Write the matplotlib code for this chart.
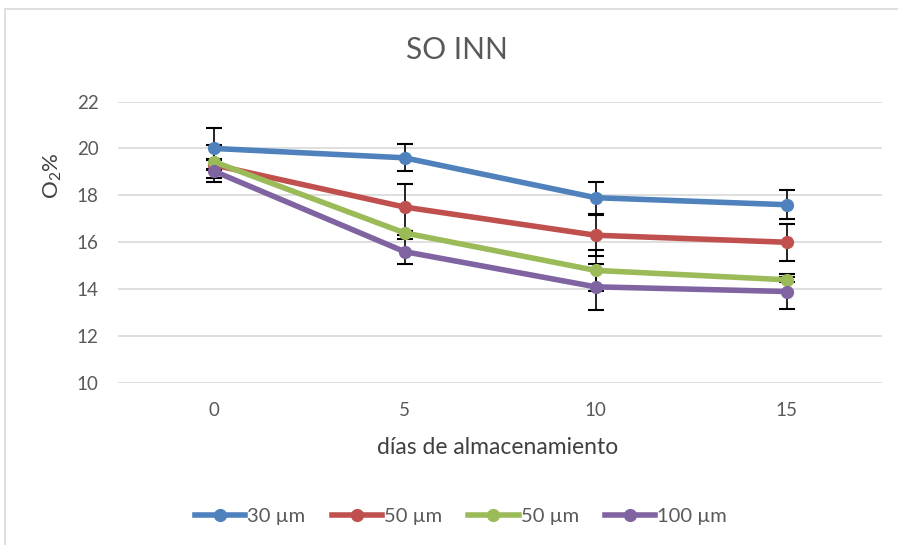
import matplotlib
matplotlib.use("Agg")
import matplotlib.pyplot as plt
from matplotlib.patches import Rectangle
from matplotlib.lines import Line2D

plt.rcParams["font.family"] = ["Lato", "DejaVu Sans"]
plt.rcParams["mathtext.fontset"] = "custom"
plt.rcParams["mathtext.rm"] = "Lato"

# Storage days and O2 (%) readings per film thickness
dias = [0, 5, 10, 15]
series_labels = ["30 µm", "50 µm", "50 µm", "100 µm"]
o2_30 = [20.0, 19.6, 17.9, 17.6]
o2_50a = [19.3, 17.5, 16.3, 16.0]
o2_50b = [19.44, 16.4, 14.8, 14.4]
o2_100 = [19.04, 15.6, 14.1, 13.9]
err_30 = [0.89, 0.58, 0.68, 0.62]
err_50a = [0.2, 1.0, 0.87, 0.78]
err_50b = [0.71, 0.1, 0.88, 0.1]
err_100 = [0.49, 0.53, 0.97, 0.74]
colors = ["#4F81BD", "#C0504D", "#9BBB59", "#8064A2"]

W, H = 898, 545
fig = plt.figure(figsize=(W / 100, H / 100), dpi=100)
ax = fig.add_axes([118 / W, 1 - 383 / H, (882 - 118) / W, (383 - 101.5) / H])

values = [o2_30, o2_50a, o2_50b, o2_100]
errors = [err_30, err_50a, err_50b, err_100]

for v, e in zip(values, errors):
    ax.errorbar(dias, v, yerr=e, fmt="none", ecolor="black", elinewidth=1.2,
                capsize=5.5, capthick=1.5, zorder=2)
for v, c, lab in zip(values, colors, series_labels):
    ax.plot(dias, v, color=c, linewidth=4, marker="o", markersize=8.5,
            label=lab, zorder=3, solid_capstyle="round")

ax.set_xlim(-2.5, 17.5)
ax.set_ylim(10, 22)
ax.set_yticks([10, 12, 14, 16, 18, 20, 22])
ax.set_xticks(dias)
ax.grid(axis="y", color="#D9D9D9", linewidth=1.2)
ax.set_axisbelow(True)
for s in ax.spines.values():
    s.set_visible(False)
ax.tick_params(axis="both", length=0, labelsize=13.5, labelcolor="#595959")
ax.tick_params(axis="y", pad=14)
ax.tick_params(axis="x", pad=14)

fig.text(457 / W, 1 - 50 / H, "SO INN", ha="center", va="center",
         fontsize=21.5, color="#595959")
fig.text(498 / W, 1 - 448 / H, "días de almacenamiento", ha="center",
         va="center", fontsize=16.5, color="#404040")
fig.text(53 / W, 1 - 176 / H, r"O$_\mathrm{2}$%", ha="center", va="center",
         rotation=90, fontsize=16, color="#404040")

handles = [Line2D([0], [0], color=c, linewidth=4, marker="o", markersize=8.5)
           for c in colors]
fig.legend(handles, series_labels, loc="center", ncol=4,
           bbox_to_anchor=(461 / W, 1 - 516 / H), frameon=False,
           fontsize=14.5, labelcolor="#595959", handlelength=2.5,
           handletextpad=0.1, columnspacing=1.3)

fig.add_artist(Rectangle((5 / W, -0.05), 1.1, (H - 8.5) / H + 0.05,
                         transform=fig.transFigure, fill=False,
                         edgecolor="#D9D9D9", linewidth=1.2))

fig.savefig("out.png", dpi=100, facecolor="white")
